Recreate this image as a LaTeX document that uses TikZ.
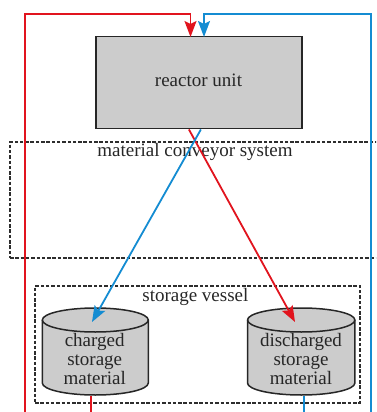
\documentclass[tikz,border=0pt]{standalone}
\usepackage{fontspec}
\setmainfont{Liberation Serif}
\usetikzlibrary{arrows.meta}
\definecolor{redline}{RGB}{225,20,30}
\definecolor{blueline}{RGB}{20,140,210}
\definecolor{boxfill}{RGB}{204,204,204}
\definecolor{dashgray}{RGB}{45,45,45}
\tikzset{
  unitbox/.style={draw=black!85, line width=1.5pt, fill=boxfill, inner sep=0pt},
  groupbox/.style={draw=dashgray, line width=1.7pt, dash pattern=on 3.5pt off 1.8pt, inner sep=0pt},
  lbl/.style={font=\fontsize{19}{18.7}\selectfont, inner sep=0pt, anchor=base, text=black!85},
  cyltext/.style={font=\fontsize{19}{18.7}\selectfont, inner sep=0pt, align=center, anchor=north, text=black!85},
  cylshape/.style={draw=black!85, line width=1.5pt, fill=boxfill},
  redflow/.style={draw=redline, line width=1.8pt},
  blueflow/.style={draw=blueline, line width=1.8pt},
  tip/.style={-{Stealth[length=16pt,width=12pt,inset=3pt]}}
}
\begin{document}
\begin{tikzpicture}[x=1pt,y=-1pt]
\useasboundingbox (0,0) rectangle (376,412);
\clip (0,0) rectangle (376,412);

% group boxes
\node[groupbox, minimum width=370pt, minimum height=116pt] (conveyor) at (195,200) {};
\node[lbl] (conveyorlbl) at (195,156.7) {material conveyor system};
\node[groupbox, minimum width=325pt, minimum height=117pt] (vessel) at (197.5,344.5) {};
\node[lbl] (vessellbl) at (195.4,301.7) {storage vessel};

% reactor
\node[unitbox, minimum width=205.7pt, minimum height=92pt] (reactor) at (198.9,82.7) {};
\node[lbl] (reactorlbl) at (198.5,86) {reactor unit};

% cylinders
\draw[cylshape] (42.3,320) -- (42.3,383) arc[start angle=180,end angle=360,x radius=53pt,y radius=12pt]
   -- (148.3,320) arc[start angle=0,end angle=180,x radius=53pt,y radius=12pt] -- cycle;
\draw[cylshape, fill=none] (42.3,320) arc[start angle=180,end angle=360,x radius=53pt,y radius=12pt];
\draw[cylshape] (247.5,320) -- (247.5,383) arc[start angle=180,end angle=360,x radius=53.7pt,y radius=12pt]
   -- (354.9,320) arc[start angle=0,end angle=180,x radius=53.7pt,y radius=12pt] -- cycle;
\draw[cylshape, fill=none] (247.5,320) arc[start angle=180,end angle=360,x radius=53.7pt,y radius=12pt];
\node[cyltext] (charged) at (94.7,333.5) {charged\\storage\\material};
\node[cyltext] (discharged) at (301,333.5) {discharged\\storage\\material};

\coordinate (chargedtop) at (92,322);
\coordinate (dischargedtop) at (295,322);
\coordinate (chargedbot) at (91,396);
\coordinate (dischargedbot) at (304,396);
\coordinate (redin) at (190.5,37);
\coordinate (bluein) at (204,37);

% loops
\draw[redflow, tip] (chargedbot) -- (91,430) -- (24.7,430) -- (24.7,14) -- (190.5,14) -- (redin);
\draw[blueflow, tip] (dischargedbot) -- (304,430) -- (371,430) -- (371,14) -- (204,14) -- (bluein);

% conveyor diagonals
\draw[redflow, tip] ([xshift=-10pt]reactor.south) -- (dischargedtop);
\draw[blueflow, tip] ([xshift=2pt]reactor.south) -- (chargedtop);
\end{tikzpicture}
\end{document}
